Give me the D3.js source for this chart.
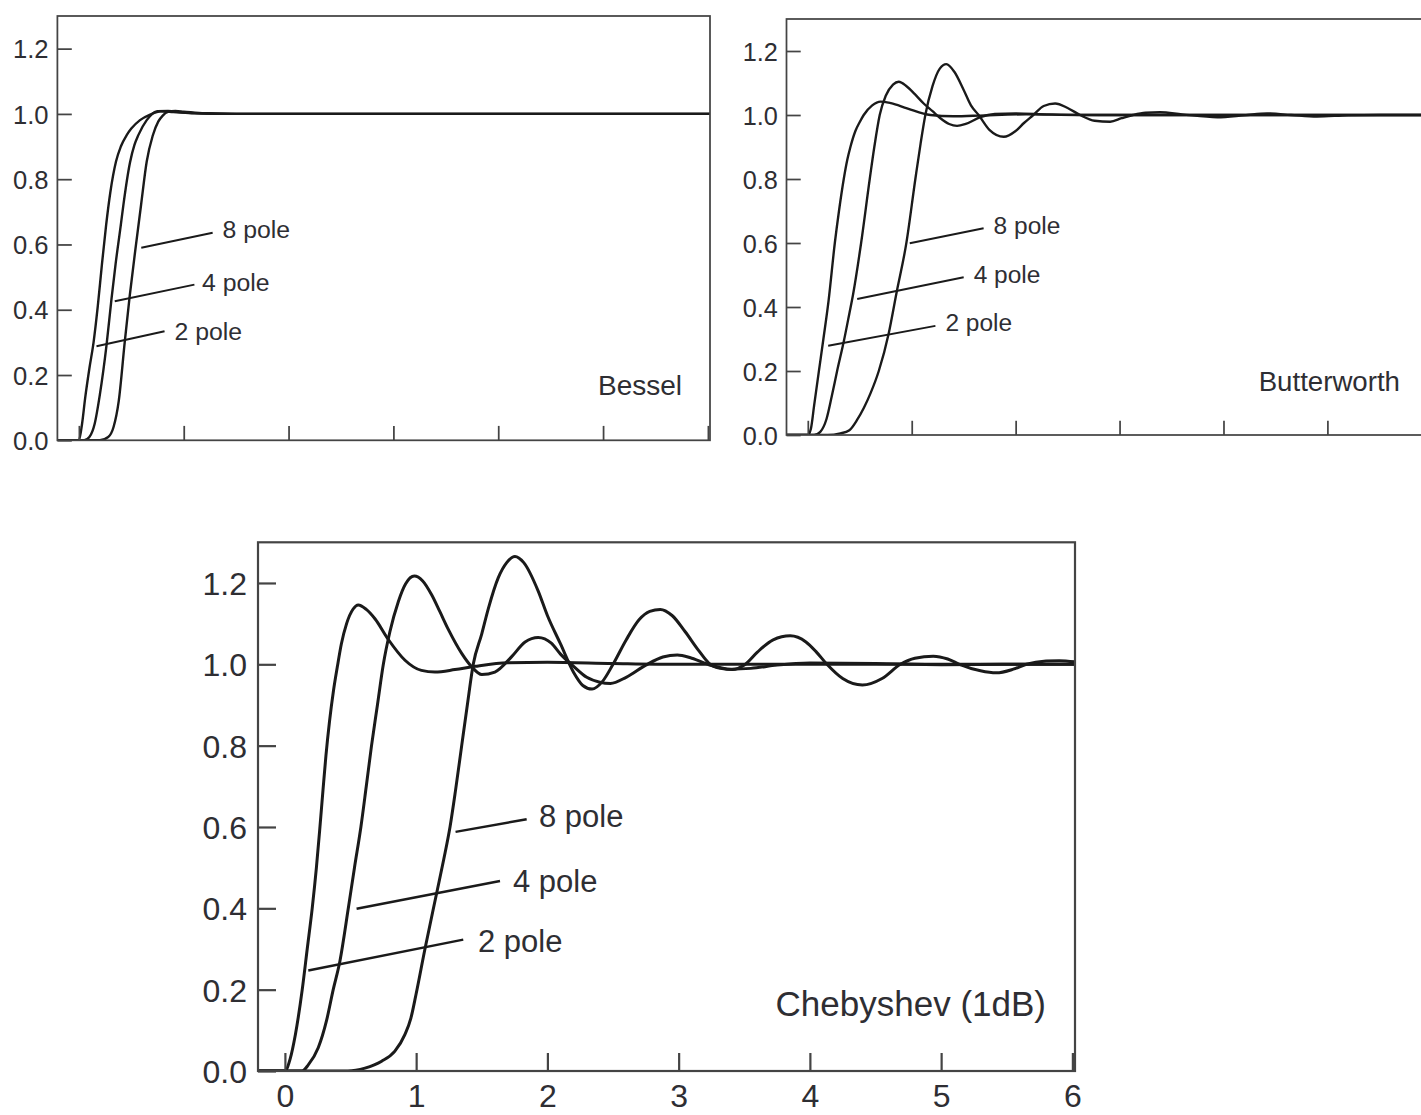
<!DOCTYPE html>
<html>
<head>
<meta charset="utf-8">
<script src="https://cdn.jsdelivr.net/npm/d3@7"></script>
<style>
  html, body { margin: 0; padding: 0; background: #ffffff; }
  svg { display: block; }
</style>
</head>
<body>
<svg id="chart" width="1421" height="1115"></svg>
<script>
// Step responses of 2-, 4- and 8-pole lowpass filters: [time, normalised output]

// Bessel
const besselPole2 = [[-0.2,0],[0,0],[0.03,0.05],[0.06,0.13],[0.1,0.22],[0.14,0.30],[0.18,0.41],[0.22,0.54],[0.26,0.66],[0.3,0.76],[0.354,0.854],[0.4,0.90],[0.456,0.935],[0.5,0.955],[0.583,0.981],[0.68,0.998],[0.78,1.008],[0.9,1.006],[1.1,1.002],[1.5,1.0],[6.02,1.0]];
const besselPole4 = [[-0.2,0],[0.05,0],[0.1,0.01],[0.15,0.05],[0.2,0.14],[0.263,0.29],[0.31,0.43],[0.35,0.54],[0.4,0.66],[0.424,0.72],[0.488,0.852],[0.53,0.905],[0.567,0.935],[0.647,0.981],[0.75,1.008],[0.85,1.009],[1.0,1.004],[1.3,1.001],[1.6,1.0],[6.02,1.0]];
const besselPole8 = [[-0.2,0],[0.2,0],[0.28,0.01],[0.33,0.04],[0.38,0.12],[0.437,0.3],[0.484,0.44],[0.545,0.6],[0.593,0.721],[0.647,0.854],[0.704,0.933],[0.758,0.977],[0.8,0.995],[0.85,1.006],[0.92,1.009],[1.0,1.007],[1.2,1.002],[1.5,1.0],[6.02,1.0]];

// Butterworth
const butterPole2 = [[-0.2,0],[0,0],[0.03,0.02],[0.06,0.09],[0.106,0.198],[0.15,0.3],[0.2,0.42],[0.26,0.6],[0.3,0.7],[0.346,0.8],[0.38,0.86],[0.41,0.9],[0.458,0.95],[0.5,0.978],[0.538,1.0],[0.62,1.03],[0.7,1.042],[0.8,1.037],[0.955,1.021],[1.18,1.0],[1.4,0.996],[1.7,0.999],[2.1,1.002],[2.6,1.0],[6.02,1.0]];
const butterPole4 = [[-0.2,0],[0.06,0],[0.12,0.01],[0.18,0.05],[0.23,0.12],[0.282,0.2],[0.346,0.292],[0.4,0.38],[0.436,0.44],[0.513,0.6],[0.596,0.8],[0.64,0.9],[0.692,1.0],[0.75,1.06],[0.82,1.095],[0.875,1.104],[0.95,1.09],[1.03,1.065],[1.115,1.036],[1.2,1.012],[1.276,0.99],[1.36,0.972],[1.436,0.966],[1.52,0.972],[1.66,0.993],[1.8,1.003],[2.0,1.005],[2.3,1.002],[2.8,1.0],[6.02,1.0]];
const butterPole8 = [[-0.2,0],[0.19,0],[0.314,0.005],[0.4,0.015],[0.474,0.047],[0.54,0.085],[0.603,0.13],[0.683,0.2],[0.779,0.318],[0.853,0.443],[0.949,0.601],[1.035,0.8],[1.085,0.91],[1.131,1.0],[1.2,1.09],[1.27,1.145],[1.333,1.159],[1.41,1.135],[1.5,1.078],[1.57,1.03],[1.644,1.0],[1.75,0.953],[1.885,0.932],[2.0,0.95],[2.08,0.975],[2.17,1.0],[2.27,1.028],[2.38,1.036],[2.5,1.022],[2.62,1.0],[2.76,0.982],[2.91,0.979],[3.02,0.99],[3.13,1.0],[3.25,1.007],[3.39,1.0086],[3.6,1.002],[3.94,0.993],[4.2,0.999],[4.42,1.005],[4.65,1.0],[4.9,0.995],[5.2,0.999],[5.5,1.0],[6.02,1.0]];

// Chebyshev (1 dB ripple)
const chebPole2 = [[-0.2,0],[0,0],[0.04,0.03],[0.08,0.09],[0.132,0.2],[0.17,0.3],[0.208,0.4],[0.24,0.5],[0.267,0.6],[0.29,0.69],[0.3125,0.775],[0.34,0.86],[0.37,0.935],[0.4,0.995],[0.43,1.05],[0.47,1.1],[0.52,1.136],[0.559,1.146],[0.62,1.135],[0.686,1.112],[0.788,1.061],[0.915,1.01],[1.04,0.985],[1.143,0.981],[1.296,0.987],[1.448,0.995],[1.7,1.004],[2.0,1.005],[2.5,1.002],[3.0,1.0],[6.02,1.0]];
const chebPole4 = [[-0.2,0],[0.13,0],[0.178,0.015],[0.254,0.057],[0.318,0.125],[0.368,0.2],[0.419,0.27],[0.483,0.4],[0.53,0.5],[0.579,0.6],[0.62,0.7],[0.66,0.8],[0.705,0.9],[0.75,1.0],[0.8,1.08],[0.864,1.154],[0.92,1.198],[0.986,1.217],[1.05,1.205],[1.118,1.171],[1.18,1.13],[1.245,1.086],[1.347,1.027],[1.423,0.994],[1.5,0.975],[1.6,0.981],[1.728,1.019],[1.83,1.055],[1.93,1.066],[2.03,1.052],[2.1,1.025],[2.2,0.995],[2.3,0.968],[2.4,0.956],[2.48,0.953],[2.6,0.968],[2.75,0.998],[2.88,1.018],[2.99,1.023],[3.1,1.015],[3.25,0.997],[3.4,0.988],[3.55,0.99],[3.75,0.998],[4.0,1.003],[4.5,1.002],[5.0,0.999],[5.5,1.0],[6.02,1.0]];
const chebPole8 = [[-0.2,0],[0.48,0],[0.61,0.007],[0.737,0.024],[0.838,0.049],[0.915,0.09],[0.96,0.13],[1.0,0.19],[1.067,0.3],[1.156,0.437],[1.21,0.52],[1.258,0.6],[1.3,0.69],[1.347,0.8],[1.39,0.9],[1.435,1.0],[1.5,1.075],[1.55,1.137],[1.626,1.213],[1.69,1.25],[1.753,1.265],[1.82,1.25],[1.93,1.18],[2.0,1.12],[2.1,1.05],[2.2,0.98],[2.27,0.948],[2.34,0.939],[2.42,0.958],[2.5,1.0],[2.6,1.06],[2.7,1.11],[2.78,1.13],[2.86,1.135],[2.95,1.12],[3.05,1.08],[3.15,1.035],[3.24,1.0],[3.32,0.99],[3.41,0.987],[3.5,0.998],[3.6,1.03],[3.72,1.06],[3.85,1.07],[3.97,1.055],[4.05,1.03],[4.13,1.0],[4.25,0.965],[4.4,0.949],[4.55,0.965],[4.69,1.0],[4.8,1.015],[4.94,1.02],[5.05,1.013],[5.14,1.0],[5.3,0.984],[5.42,0.979],[5.55,0.988],[5.65,1.0],[5.8,1.008],[5.9,1.009],[6.02,1.006]];

// Axis ticks and callout labels
const xTickValues = [0, 1, 2, 3, 4, 5, 6];
const yTickValues = [0, 0.2, 0.4, 0.6, 0.8, 1.0, 1.2];
const poleLabels = ["2 pole", "4 pole", "8 pole"];

// Panel layout (pixel frame, scale factor for type/ticks, callout anchors in data units)
const panels = [
  {
    title: "Bessel",
    series: [besselPole2, besselPole4, besselPole8],
    left: 57.4, right: 710, top: 16, bottom: 440.3, k: 0.8,
    xLabels: false, titleX: 682, titleBaseline: 395,
    callouts: [
      { from: [0.168, 0.288], to: [0.817, 0.334], text: [0.912, 0.336] },
      { from: [0.342, 0.426], to: [1.102, 0.477], text: [1.175, 0.484] },
      { from: [0.595, 0.59],  to: [1.276, 0.636], text: [1.37, 0.646] }
    ]
  },
  {
    title: "Butterworth",
    series: [butterPole2, butterPole4, butterPole8],
    left: 786.5, right: 1433.4, top: 19, bottom: 435, k: 0.79,
    xLabels: false, titleX: 1400, titleBaseline: 391,
    callouts: [
      { from: [0.196, 0.279], to: [1.228, 0.341], text: [1.324, 0.351] },
      { from: [0.475, 0.425], to: [1.5, 0.493],   text: [1.596, 0.503] },
      { from: [0.981, 0.599], to: [1.692, 0.646], text: [1.788, 0.656] }
    ]
  },
  {
    title: "Chebyshev (1dB)",
    series: [chebPole2, chebPole4, chebPole8],
    left: 258, right: 1075, top: 542.3, bottom: 1071, k: 1,
    xLabels: true, titleX: 1046, titleBaseline: 1016,
    callouts: [
      { from: [0.178, 0.247], to: [1.359, 0.323], text: [1.471, 0.319] },
      { from: [0.546, 0.399], to: [1.639, 0.467], text: [1.738, 0.467] },
      { from: [1.3, 0.588],   to: [1.842, 0.619], text: [1.936, 0.627] }
    ]
  }
];

const FONT = "'Liberation Sans', Arial, Helvetica, sans-serif";
const INK = "#1a1a1a";
const FRAME = "#444444";
const TEXT = "#2e2e33";

const svg = d3.select("#chart");
svg.append("rect").attr("width", 1421).attr("height", 1115).attr("fill", "#ffffff");

panels.forEach((p, i) => {
  const k = p.k;
  const x = d3.scaleLinear().domain([-0.205, 6.02]).range([p.left, p.right]);
  const y = d3.scaleLinear().domain([0, 1.3]).range([p.bottom, p.top]);
  const g = svg.append("g").attr("class", "panel");

  const clipId = "clip" + i;
  svg.append("clipPath").attr("id", clipId)
    .append("rect")
    .attr("x", p.left).attr("y", p.top)
    .attr("width", p.right - p.left).attr("height", p.bottom - p.top);

  // Response curves
  const line = d3.line()
    .x(d => x(d[0]))
    .y(d => y(d[1]))
    .curve(d3.curveMonotoneX);

  g.append("g").attr("clip-path", `url(#${clipId})`)
    .selectAll("path.curve")
    .data(p.series)
    .join("path")
    .attr("class", "curve")
    .attr("d", line)
    .attr("fill", "none")
    .attr("stroke", INK)
    .attr("stroke-width", 3 * k)
    .attr("stroke-linejoin", "round")
    .attr("stroke-linecap", "round");

  // Frame
  g.append("rect")
    .attr("x", p.left).attr("y", p.top)
    .attr("width", p.right - p.left).attr("height", p.bottom - p.top)
    .attr("fill", "none")
    .attr("stroke", FRAME)
    .attr("stroke-width", 2.2 * k);

  // Y axis: inward ticks, labels to the left
  const yAxis = d3.axisLeft(y)
    .tickValues(yTickValues)
    .tickSize(-18 * k)
    .tickPadding(11 * k)
    .tickFormat(d3.format(".1f"));
  const ya = g.append("g")
    .attr("transform", `translate(${p.left},0)`)
    .call(yAxis);
  ya.select(".domain").remove();
  ya.selectAll(".tick line").attr("stroke", FRAME).attr("stroke-width", 2.2 * k);
  ya.selectAll(".tick text")
    .attr("fill", TEXT)
    .attr("font-family", FONT)
    .attr("font-size", 32 * k)
    .attr("dy", "0.36em");

  // X axis: inward ticks, labels only on the lower panel
  const xAxis = d3.axisBottom(x)
    .tickValues(xTickValues)
    .tickSize(-18 * k)
    .tickPadding(13 * k)
    .tickFormat(p.xLabels ? d3.format("d") : () => "");
  const xa = g.append("g")
    .attr("transform", `translate(0,${p.bottom})`)
    .call(xAxis);
  xa.select(".domain").remove();
  xa.selectAll(".tick line").attr("stroke", FRAME).attr("stroke-width", 2.2 * k);
  xa.selectAll(".tick text")
    .attr("fill", TEXT)
    .attr("font-family", FONT)
    .attr("font-size", 32 * k);

  // Callout leaders and pole-count labels
  p.callouts.forEach((c, j) => {
    g.append("line")
      .attr("x1", x(c.from[0])).attr("y1", y(c.from[1]))
      .attr("x2", x(c.to[0])).attr("y2", y(c.to[1]))
      .attr("stroke", INK)
      .attr("stroke-width", 2.5 * k)
      .attr("stroke-linecap", "butt");
    g.append("text")
      .attr("x", x(c.text[0]))
      .attr("y", y(c.text[1]))
      .attr("dy", "0.36em")
      .attr("font-family", FONT)
      .attr("font-size", 31 * k)
      .attr("fill", TEXT)
      .text(poleLabels[j]);
  });

  // Panel title
  g.append("text")
    .attr("x", p.titleX)
    .attr("y", p.titleBaseline)
    .attr("text-anchor", "end")
    .attr("font-family", FONT)
    .attr("font-size", 35 * k)
    .attr("fill", TEXT)
    .text(p.title);
});
</script>
</body>
</html>
